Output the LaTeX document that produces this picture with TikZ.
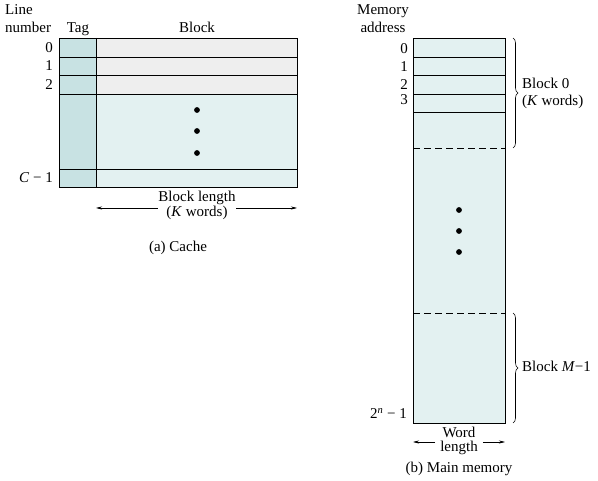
\documentclass[tikz,border=0pt]{standalone}
\usepackage{fontspec}
\setmainfont{Liberation Serif}
\usepackage{xcolor}
\usetikzlibrary{arrows.meta,positioning,calc,decorations.pathreplacing}
\definecolor{tagfill}{HTML}{C8E2E3}
\definecolor{oldfill}{HTML}{EEEEEE}
\definecolor{cellfill}{HTML}{E3F1F1}

\begin{document}
\begin{tikzpicture}[x=1pt, y=-1pt, >=Stealth,
  font=\fontsize{15}{17}\selectfont,
  lbl/.style={inner sep=1pt},
  stack/.style={inner sep=0.5pt, align=center, font=\fontsize{15}{13.5}\selectfont},
  dimarrow/.style={->, >={Stealth[length=6pt,width=3pt]}, line width=0.6pt},
  membrace/.style={decorate, decoration={brace, amplitude=5pt}, line width=0.6pt},
  cellline/.style={line width=0.9pt},
  sepline/.style={line width=0.9pt, dash pattern=on 7pt off 4pt}]
  \useasboundingbox (0,0) rectangle (598,481);

  % Cache: fills (drawn first)
  \fill[tagfill] (59,38) rectangle (96,187);
  \fill[oldfill] (96,38) rectangle (297,94);
  \fill[cellfill] (96,94) rectangle (297,187);

  % Cache: lines
  \draw[cellline] (59,38) rectangle (297,187);
  \draw[cellline] (96,38) -- (96,187);
  \foreach \y in {57,75,94,169}
    \draw[cellline] (59,\y) -- (297,\y);
  \foreach \y in {110,131,153}
    \fill (197,\y) circle (2.9pt);

  % Cache: headings
  \node[lbl, anchor=base west] (line) at (4,14.5) {Line};
  \node[lbl, anchor=base west] (number) at (4,32.5) {number};
  \node[lbl, anchor=base] (tag) at (78,32.5) {Tag};
  \node[lbl, anchor=base] (block) at (197,32.5) {Block};

  % Cache: line numbers
  \node[lbl, anchor=base east] (l0) at (54,53) {0};
  \node[lbl, anchor=base east] (l1) at (54,71) {1};
  \node[lbl, anchor=base east] (l2) at (54,90) {2};
  \node[lbl, anchor=base east] (lC) at (54,183) {\textit{C} − 1};

  % Cache: block length
  \node[stack] (blen) at (197,205.5) {Block length\\(\textit{K} words)};
  \coordinate (blL) at (96,208);
  \coordinate (blR) at (297,208);
  \draw[dimarrow] (blL -| blen.west) -- (blL);
  \draw[dimarrow] (blR -| blen.east) -- (blR);
  \node[lbl, anchor=base] (capa) at (178,252) {(a) Cache};

  % Main memory: fill and lines
  \fill[cellfill] (413,38) rectangle (505,423);
  \draw[cellline] (413,38) rectangle (505,423);
  \foreach \y in {57,75,94,112}
    \draw[cellline] (413,\y) -- (505,\y);
  \draw[sepline] (413,148) -- (505,148);
  \draw[sepline] (413,313) -- (505,313);
  \foreach \y in {210,231,252}
    \fill (459,\y) circle (2.9pt);

  % Main memory: headings and addresses
  \node[lbl, anchor=base] (memory) at (383,14.5) {Memory};
  \node[lbl, anchor=base] (address) at (383,32.5) {address};
  \node[lbl, anchor=base east] (a0) at (409,53.5) {0};
  \node[lbl, anchor=base east] (a1) at (409,71.5) {1};
  \node[lbl, anchor=base east] (a2) at (409,89.5) {2};
  \node[lbl, anchor=base east] (a3) at (409,105) {3};
  \node[lbl, anchor=base east] (alast) at (408,418.5) {2\textsuperscript{\textit{n}} − 1};

  % Main memory: braces
  \coordinate (b0top) at (513,38);
  \coordinate (b0bot) at (513,148);
  \coordinate (bMtop) at (513,313);
  \coordinate (bMbot) at (513,423);
  \draw[membrace] (b0top) -- (b0bot);
  \draw[membrace] (bMtop) -- (bMbot);
  \node[lbl, anchor=base west] (blk0) at (521,89) {Block 0};
  \node[lbl, anchor=base west] (blk0kw) at (521,106) {(\textit{K} words)};
  \node[lbl, anchor=west] (blkM) at (521,366) {Block \textit{M}−1};

  % Main memory: word length
  \node[stack, inner xsep=5pt] (wlen) at (459,441) {Word\\length};
  \coordinate (wlL) at (413,442);
  \coordinate (wlR) at (505,442);
  \draw[dimarrow] (wlL -| wlen.west) -- (wlL);
  \draw[dimarrow] (wlR -| wlen.east) -- (wlR);
  \node[lbl, anchor=base] (capb) at (459,472) {(b) Main memory};
\end{tikzpicture}
\end{document}
